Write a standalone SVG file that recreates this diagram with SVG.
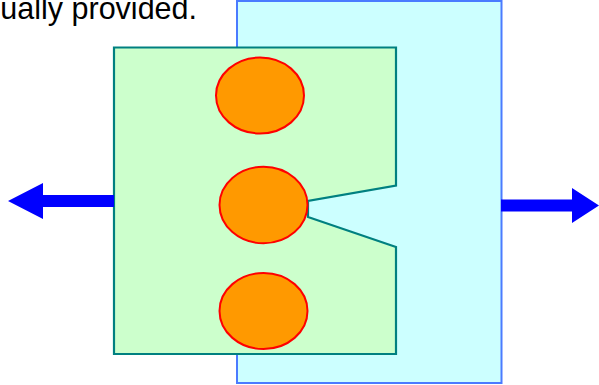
<svg xmlns="http://www.w3.org/2000/svg" width="599" height="385" viewBox="0 0 599 385">
<style>
.cell{fill:#ccffff;stroke:#4a7bff;stroke-width:2}
.body{fill:#ccffcc;stroke:#008080;stroke-width:2.2;stroke-linejoin:miter}
.ball{fill:#ff9900;stroke:#ff0000;stroke-width:2}
.arr{fill:#0000ff;stroke:none}
.cap{font-family:"Liberation Sans",Arial,sans-serif;font-size:30.5px;fill:#000}
</style>
<text class="cap" x="197" y="18.8" text-anchor="end">ually provided.</text>
<g id="outer">
<rect class="cell" x="237" y="1" width="264.5" height="382"/>
</g>
<g id="inner">
<path class="body" d="M114,47.5 H396 V185.5 L308,201 L308,217 L396,247 V354 H114 Z"/>
</g>
<g id="ball-top"><ellipse class="ball" cx="260" cy="95.5" rx="44" ry="38"/></g>
<g id="ball-mid"><ellipse class="ball" cx="263.5" cy="205" rx="44" ry="38.3"/></g>
<g id="ball-bottom"><ellipse class="ball" cx="263.5" cy="311" rx="44" ry="38"/></g>
<g id="connectors">
<path class="arr" d="M114,195 H43 V183 L8,201 L43,219 V207 H114 Z"/>
<path class="arr" d="M501,199.5 H572 V188 L599,205.5 L572,223 V211.5 H501 Z"/>
</g>
</svg>
